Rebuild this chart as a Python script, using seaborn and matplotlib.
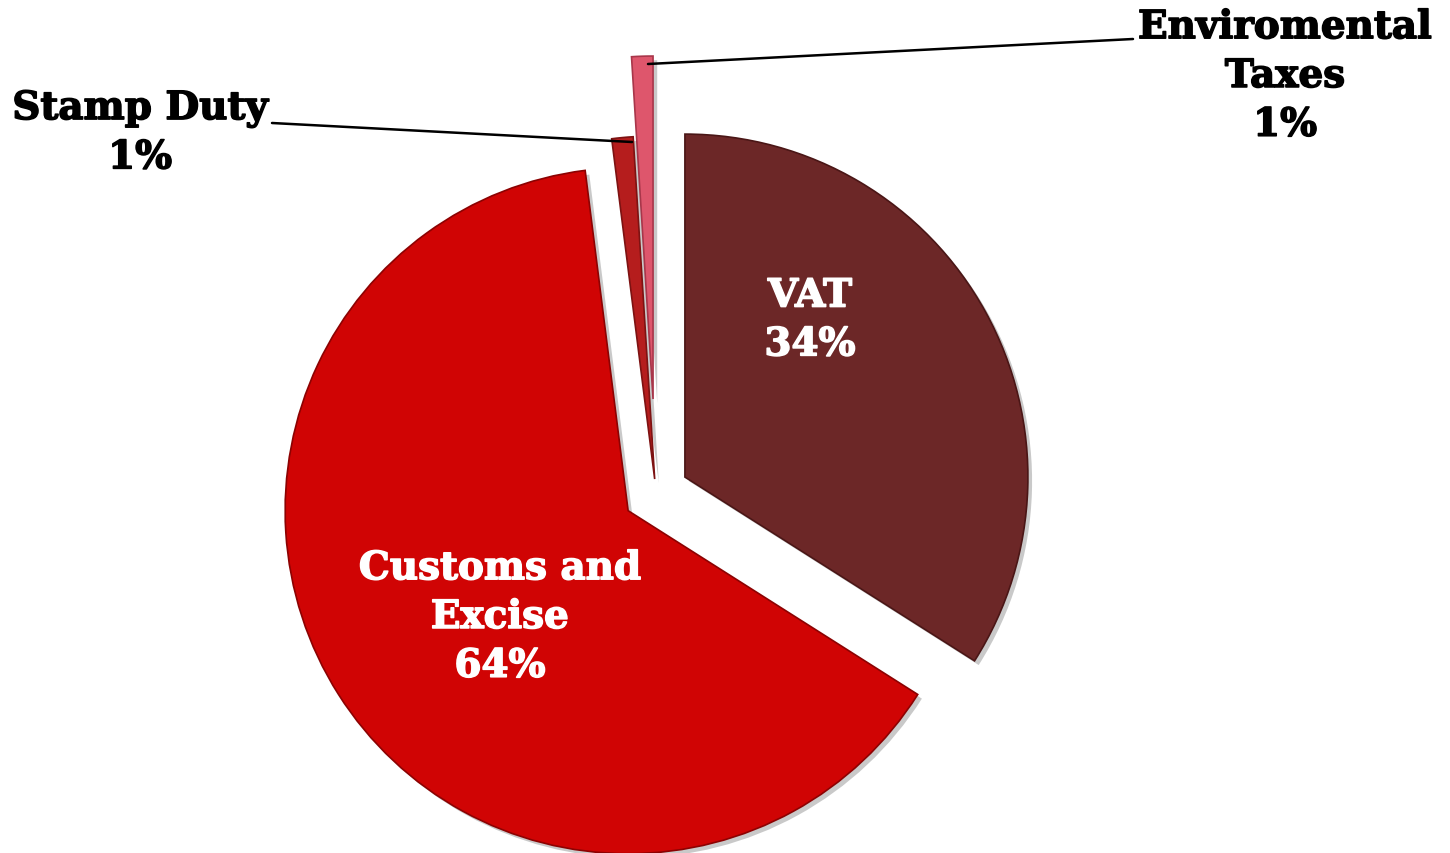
import matplotlib
matplotlib.use("Agg")
import matplotlib.pyplot as plt
import matplotlib.patheffects as pe
import seaborn as sns

# Tax revenue shares
categories = ["VAT", "Customs and\nExcise", "Stamp Duty", "Enviromental\nTaxes"]
shares = [34, 64, 1, 1]
colors = ["#6C2727", "#D00404", "#B51D1D", "#DE566C"]
edge_colors = ["#4a1616", "#8c0202", "#7d1212", "#a8364a"]

sns.set_theme(style="white")
plt.rcParams["font.family"] = ["DejaVu Serif"]

W, H = 1450, 854
fig = plt.figure(figsize=(W / 100, H / 100), dpi=100)
ax = fig.add_axes([0, 0, 1, 1])

radius = 343
center = (656, H - 494)
explode = [33, 33, 14, 94]

wedges, _ = ax.pie(
    shares,
    colors=colors,
    startangle=90,
    counterclock=False,
    radius=radius,
    center=center,
    explode=explode,
    frame=True,
    wedgeprops=dict(linewidth=1.2),
)
ax.set_xlim(0, W)
ax.set_ylim(0, H)
ax.set_aspect("equal")
ax.axis("off")

for w, ec in zip(wedges, edge_colors):
    w.set_edgecolor(ec)
    w.set_path_effects([
        pe.SimplePatchShadow(offset=(3, -3), shadow_rgbFace="#888888", alpha=0.45),
        pe.Normal(),
    ])

total = sum(shares)
pct = [f"{round(100 * v / total)}%" for v in shares]
fs = 28
bold = dict(fontsize=fs, fontweight="bold", ha="center", va="center", linespacing=1.36)


def heavy(color):
    return [pe.withStroke(linewidth=1.1, foreground=color)]


# Labels inside the large wedges
ax.text(810, H - 321, f"{categories[0]}\n{pct[0]}", color="white",
        path_effects=heavy("white"), **bold)
ax.text(500, H - 618, f"{categories[1]}\n{pct[1]}", color="white",
        path_effects=heavy("white"), **bold)

# Labels for the thin wedges with leader lines
ax.text(140, H - 134, f"{categories[2]}\n{pct[2]}", color="black",
        path_effects=heavy("black"), **bold)
ax.plot([272, 632], [H - 124, H - 143], color="black", lw=1.8)
ax.text(1285, H - 77, f"{categories[3]}\n{pct[3]}", color="black",
        path_effects=heavy("black"), **bold)
ax.plot([1133, 648], [H - 40, H - 65], color="black", lw=1.8)

fig.savefig("out.png", dpi=100, facecolor="white")
